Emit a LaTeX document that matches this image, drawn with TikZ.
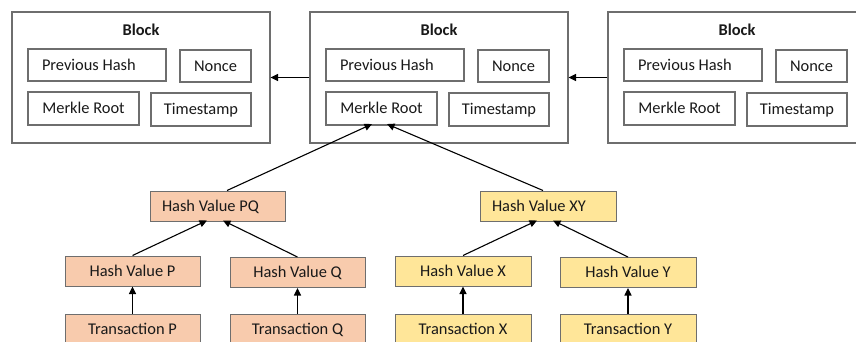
\documentclass[tikz,border=0pt]{standalone}
\usepackage{fontspec}
\setmainfont{Carlito}
\usetikzlibrary{arrows.meta,calc}

\definecolor{hashorange}{HTML}{F8CBAD}
\definecolor{hashyellow}{HTML}{FFE699}
\definecolor{boxline}{HTML}{6E6E6E}

\tikzset{
  every node/.style={font=\fontsize{16.4}{19}\selectfont, text=black!90, text height=10.6pt, text depth=0pt},
  blockbox/.style={draw=boxline, line width=1.1pt, fill=white, minimum width=258pt, minimum height=131pt, inner sep=0pt},
  blocktitle/.style={font=\fontsize{16.4}{19}\selectfont\bfseries},
  fieldbox/.style={draw=boxline, line width=1.1pt, fill=white, minimum height=32pt, inner sep=0pt},
  hashbox/.style={draw=boxline, line width=1pt, minimum width=135pt, minimum height=30pt, inner sep=0pt},
  orangebox/.style={hashbox, fill=hashorange},
  yellowbox/.style={hashbox, fill=hashyellow},
  link/.style={draw=black, line width=1.1pt, -{Triangle[length=7.5pt,width=7pt]}}
}

\begin{document}
\begin{tikzpicture}[x=1pt,y=-1pt]
\useasboundingbox (0,0) rectangle (856,342);
\clip (0,0) rectangle (856,342);

% three chained blocks, each with its four header fields
\foreach \b/\L in {1/12, 2/310, 3/608} {
  \node[blockbox] (b\b) at (\L+129, 77.5) {};
  \node[blocktitle] (t\b) at (\L+129, 30) {Block};
  \node[fieldbox, text width=110pt, inner xsep=14pt, align=flush left] (ph\b) at (\L+85, 65) {Previous Hash};
  \node[fieldbox, minimum width=71pt] (nc\b) at (\L+203.5, 66) {Nonce};
  \node[fieldbox, minimum width=111pt, minimum height=33pt] (mr\b) at (\L+71.5, 108.5) {Merkle Root};
  \node[fieldbox, minimum width=100pt, minimum height=33pt] (ts\b) at (\L+189, 109.5) {Timestamp};
}

% each block points back to its predecessor
\draw[link] (b2.west) -- (b1.east);
\draw[link] (b3.west) -- (b2.east);

% Merkle tree feeding the middle block's root
\node[orangebox, text width=111pt, inner xsep=12pt, align=flush left] (pq) at (217.5, 206) {Hash Value PQ};
\node[orangebox] (hp) at (132.5, 271) {Hash Value P};
\node[orangebox] (hq) at (297.5, 272.5) {Hash Value Q};
\node[orangebox] (tp) at (132.5, 329) {Transaction P};
\node[orangebox] (tq) at (297.5, 329) {Transaction Q};

\node[yellowbox, minimum width=136pt, text width=112pt, inner xsep=12pt, align=flush left] (xy) at (548, 206) {Hash Value XY};
\node[yellowbox, minimum width=136pt] (hx) at (463, 271) {Hash Value X};
\node[yellowbox, minimum width=136pt] (hy) at (628, 272.5) {Hash Value Y};
\node[yellowbox, minimum width=136pt] (tx) at (463, 329) {Transaction X};
\node[yellowbox, minimum width=136pt] (ty) at (628, 329) {Transaction Y};

\draw[link] (tp.north) -- (hp.south);
\draw[link] (tq.north) -- (hq.south);
\draw[link] (tx.north) -- (hx.south);
\draw[link] (ty.north) -- (hy.south);

\draw[link] (hp.north) -- ($(pq.south)+(-10.5,-1)$);
\draw[link] (hq.north) -- ($(pq.south)+(5.5,-1)$);
\draw[link] (hx.north) -- ($(xy.south)+(-11,-1)$);
\draw[link] (hy.north) -- ($(xy.south)+(5,-1)$);

\draw[link] ($(pq.north)+(9.5,0)$) -- ($(mr2.south)+(-9.5,-1.5)$);
\draw[link] ($(xy.north)+(-5,0)$) -- ($(mr2.south)+(5.5,-1.5)$);
\end{tikzpicture}
\end{document}
